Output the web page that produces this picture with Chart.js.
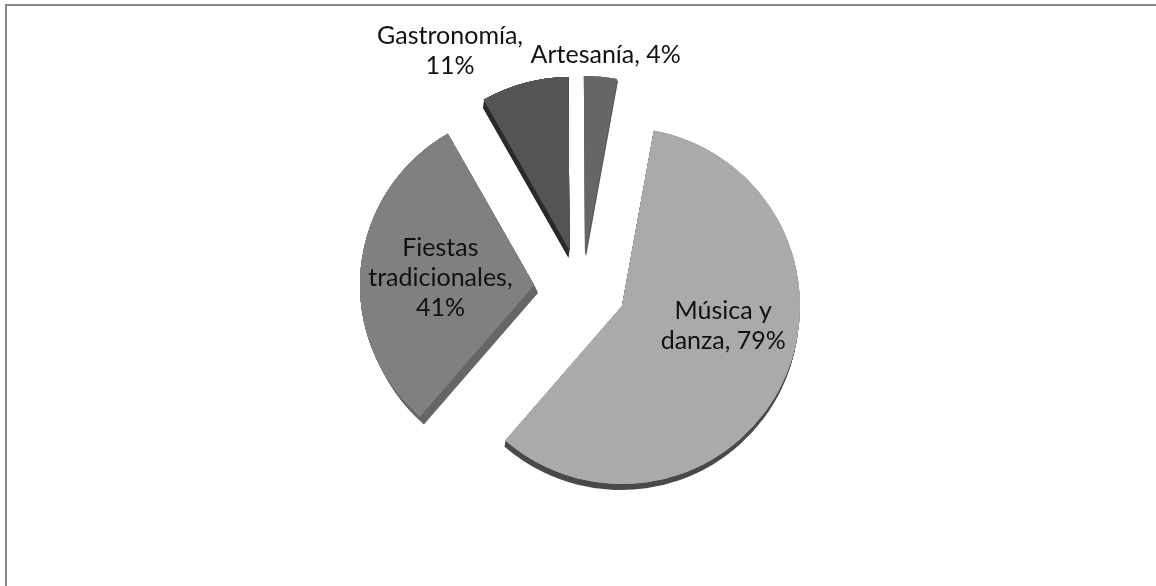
<!DOCTYPE html>
<html>
<head>
<meta charset="utf-8">
<style>
html,body{margin:0;padding:0;background:#fff;overflow:hidden}
#wrap{position:relative;width:1156px;height:586px}
#frame{position:absolute;left:5px;top:4px;right:0;bottom:0;border-top:2px solid #8a8a8a;border-left:2px solid #8a8a8a;pointer-events:none}
canvas{position:absolute;left:0;top:0}
</style>
<script src="https://cdn.jsdelivr.net/npm/chart.js@4/dist/chart.umd.min.js"></script>
</head>
<body>
<div id="wrap"><canvas id="c" width="1156" height="586"></canvas><div id="frame"></div></div>
<script>
const categories = ["Música y danza", "Fiestas tradicionales", "Gastronomía", "Artesanía"];
const values = [79, 41, 11, 4];
const labelLines = [["Música y", "danza, 79%"], ["Fiestas", "tradicionales,", "41%"], ["Gastronomía,", "11%"], ["Artesanía, 4%"]];

const sliceColors = ["#aaaaaa", "#808080", "#555555", "#666666"];
const rimColors = ["#4a4a4a", "#666666", "#2a2a2a", "#585858"];
// how far each slice is pulled out of the pie, and its radius
const sliceShift = [[43, 18], [-45, -3], [-9.5, -38], [6, -33]];
const sliceRadius = [178, 174, 173, 179];
const rimVectors = [[-1, 6], [4, 8], [-1, 8], [1, 2]];
const labelShift = [[21, -19], [-7, 1], [-97, -116], [13, -111]];

const explodePlugin = {
  id: "explode",
  afterDatasetsUpdate(chart) {
    chart.getDatasetMeta(0).data.forEach((arc, i) => {
      arc.x += sliceShift[i][0];
      arc.y += sliceShift[i][1];
      arc.outerRadius = sliceRadius[i];
    });
  },
  beforeDatasetsDraw(chart) {
    const ctx = chart.ctx;
    chart.getDatasetMeta(0).data.forEach((arc, i) => {
      const [dx, dy] = rimVectors[i];
      const steps = Math.max(Math.abs(dx), Math.abs(dy));
      ctx.save();
      ctx.shadowColor = rimColors[i];
      ctx.shadowBlur = 0;
      for (let s = steps; s >= 1; s--) {
        ctx.shadowOffsetX = dx * s / steps;
        ctx.shadowOffsetY = dy * s / steps;
        arc.draw(ctx);
      }
      ctx.restore();
    });
  }
};

const textPlugin = {
  id: "sliceText",
  afterDatasetsDraw(chart) {
    const ctx = chart.ctx;
    ctx.save();
    ctx.font = "25px Lato";
    ctx.fillStyle = "#111111";
    ctx.textAlign = "center";
    ctx.textBaseline = "middle";
    chart.getDatasetMeta(0).data.forEach((arc, i) => {
      const p = arc.getCenterPoint();
      const lines = labelLines[i];
      const lh = 30;
      const y0 = p.y + labelShift[i][1] - (lines.length - 1) * lh / 2;
      lines.forEach((t, k) => ctx.fillText(t, p.x + labelShift[i][0], y0 + k * lh));
    });
    ctx.restore();
  }
};

new Chart(document.getElementById("c"), {
  type: "pie",
  data: {
    labels: categories,
    datasets: [{
      data: values,
      backgroundColor: sliceColors,
      borderWidth: 0
    }]
  },
  options: {
    responsive: false,
    animation: false,
    rotation: 10.3,
    radius: 178,
    layout: { padding: { left: 2, right: 0, top: 0, bottom: 10 } },
    plugins: { legend: { display: false }, tooltip: { enabled: false } }
  },
  plugins: [explodePlugin, textPlugin]
});
</script>
</body>
</html>
